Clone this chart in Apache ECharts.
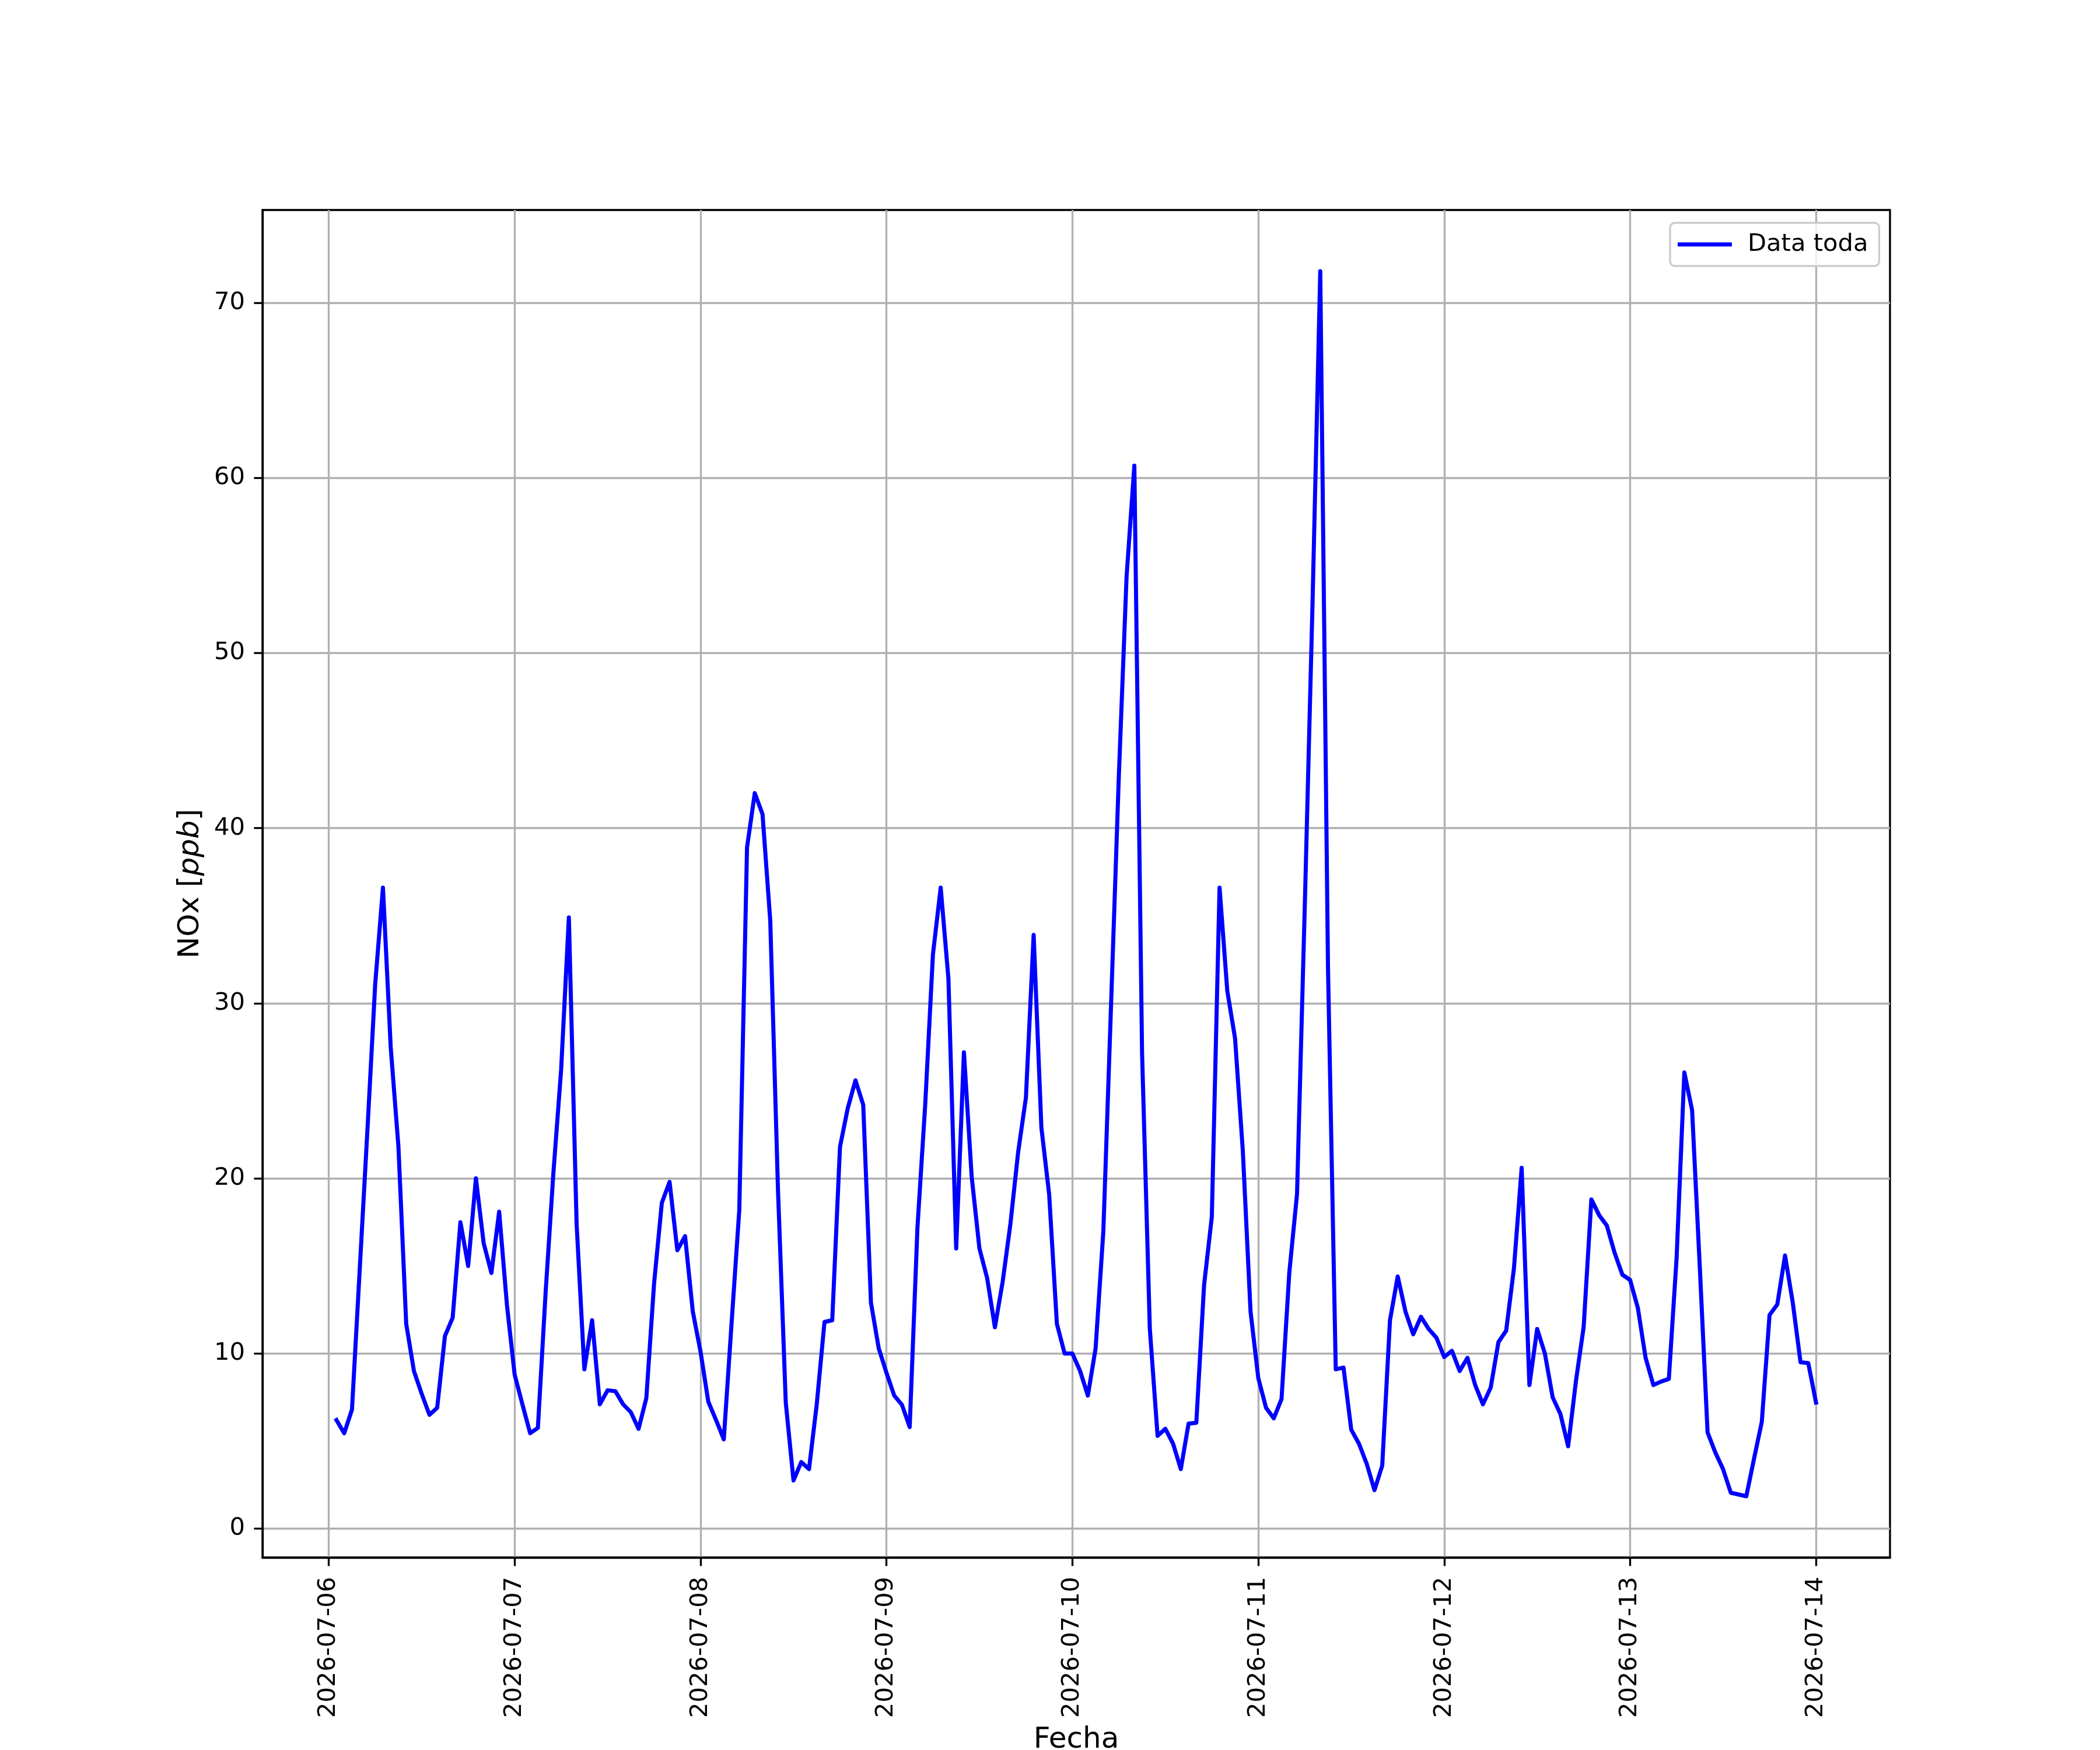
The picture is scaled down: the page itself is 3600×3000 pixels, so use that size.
<!DOCTYPE html>
<html>
<head>
<meta charset="utf-8">
<script src="https://cdn.jsdelivr.net/npm/echarts@6/dist/echarts.min.js"></script>
<style>
html,body{margin:0;padding:0;background:#fff;}
#chart{width:3600px;height:3000px;}
</style>
</head>
<body>
<div id="chart"></div>
<script>
// Tick labels (one per day, at midnight)
const dayLabels = ['2026-07-06','2026-07-07','2026-07-08','2026-07-09','2026-07-10','2026-07-11','2026-07-12','2026-07-13','2026-07-14'];
const yTicks = [0, 10, 20, 30, 40, 50, 60, 70];

// Hourly NOx [ppb]; first value is 2026-07-06 01:00
const firstHour = 1;
const nox0706 = [6.2, 5.45, 6.8, 14.8, 22.8, 31.1, 36.6, 27.5, 21.8, 11.7, 9.0, 7.7, 6.5, 6.9, 11.0, 12.05, 17.5, 15.0, 20.0, 16.3, 14.6, 18.1, 12.8];
const nox0707 = [8.8, 7.1, 5.45, 5.75, 13.5, 20.3, 26.2, 34.9, 17.4, 9.1, 11.9, 7.1, 7.9, 7.85, 7.1, 6.65, 5.7, 7.45, 14.0, 18.6, 19.8, 15.9, 16.7, 12.4];
const nox0708 = [10.1, 7.25, 6.2, 5.1, 11.7, 18.2, 38.9, 42.0, 40.8, 34.7, 19.3, 7.2, 2.75, 3.8, 3.4, 7.1, 11.8, 11.9, 21.8, 24.0, 25.6, 24.2, 12.9, 10.3];
const nox0709 = [8.9, 7.6, 7.07, 5.8, 17.2, 24.2, 32.8, 36.6, 31.4, 16.0, 27.2, 20.1, 16.0, 14.3, 11.5, 14.1, 17.4, 21.5, 24.6, 33.9, 22.9, 19.1, 11.7, 10.0];
const nox0710 = [10.0, 9.0, 7.6, 10.3, 17.0, 30.0, 43.0, 54.4, 60.7, 27.1, 11.4, 5.3, 5.7, 4.85, 3.4, 6.0, 6.05, 13.9, 17.8, 36.6, 30.7, 28.0, 21.6, 12.4];
const nox0711 = [8.6, 6.9, 6.3, 7.4, 14.6, 19.1, 35.5, 52.8, 71.8, 32.0, 9.1, 9.2, 5.65, 4.85, 3.7, 2.2, 3.6, 11.9, 14.4, 12.4, 11.1, 12.1, 11.4, 10.9];
const nox0712 = [9.8, 10.15, 9.0, 9.75, 8.2, 7.1, 8.05, 10.65, 11.3, 14.85, 20.6, 8.2, 11.4, 10.0, 7.5, 6.55, 4.7, 8.4, 11.5, 18.8, 17.9, 17.3, 15.75, 14.5];
const nox0713 = [14.2, 12.6, 9.75, 8.2, 8.4, 8.55, 15.45, 26.05, 23.9, 14.9, 5.5, 4.35, 3.4, 2.05, 1.95, 1.85, 4.0, 6.1, 12.2, 12.8, 15.6, 12.9, 9.5, 9.45];
const nox0714 = [7.2];

const noxValues = [].concat(nox0706, nox0707, nox0708, nox0709, nox0710, nox0711, nox0712, nox0713, nox0714);
const seriesData = noxValues.map((v, i) => [firstHour + i, v]);

// matplotlib-like 5% margins
const xFirst = firstHour, xLast = firstHour + noxValues.length - 1;
const xPad = (xLast - xFirst) * 0.05;
const yMinData = Math.min(...noxValues), yMaxData = Math.max(...noxValues);
const yPad = (yMaxData - yMinData) * 0.05;

const PT = 300 / 72;
const FONT = 'DejaVu Sans';

const chart = echarts.init(document.getElementById('chart'), null, {renderer: 'canvas'});
chart.setOption({
  backgroundColor: '#ffffff',
  animation: false,
  grid: {
    left: 450, right: 360, top: 360, bottom: 330,
    outerBoundsMode: 'none', containLabel: false,
    show: true, borderColor: '#000000', borderWidth: 0.8 * PT, backgroundColor: 'transparent'
  },
  legend: {
    show: true,
    left: 2863, top: 382,
    orient: 'vertical',
    icon: 'rect',
    itemWidth: 93, itemHeight: 7,
    padding: [16, 19, 16, 13],
    backgroundColor: 'rgba(255,255,255,0.8)',
    borderColor: '#cccccc', borderWidth: 0.8 * PT, borderRadius: 8,
    textStyle: {fontFamily: FONT, fontSize: 10 * PT, color: '#000', padding: [0, 0, 0, 22]},
    data: ['Data toda']
  },
  xAxis: {
    type: 'value',
    min: xFirst - xPad, max: xLast + xPad,
    name: 'Fecha', nameLocation: 'middle', nameGap: 288,
    nameTextStyle: {fontFamily: FONT, fontSize: 12 * PT, color: '#000', verticalAlign: 'top'},
    axisLine: {show: true, onZero: false, lineStyle: {color: '#000', width: 0.8 * PT}},
    axisTick: {show: true, length: 3.5 * PT, lineStyle: {color: '#000', width: 0.8 * PT},
               customValues: dayLabels.map((d, i) => i * 24)},
    axisLabel: {show: true, rotate: 90, margin: 33, fontFamily: FONT, fontSize: 10 * PT, color: '#000',
                customValues: dayLabels.map((d, i) => i * 24),
                formatter: v => dayLabels[Math.round(v / 24)]},
    splitLine: {show: true, lineStyle: {color: '#b0b0b0', width: 0.8 * PT}}
  },
  yAxis: {
    type: 'value',
    min: yMinData - yPad, max: yMaxData + yPad,
    name: '{a|NOx [}{b|ppb}{a|]}', nameLocation: 'middle', nameGap: 98,
    nameTextStyle: {fontFamily: FONT, fontSize: 12 * PT, color: '#000',
      rich: {a: {fontFamily: FONT, fontSize: 12 * PT, color: '#000'},
             b: {fontFamily: FONT, fontSize: 12 * PT, fontStyle: 'italic', color: '#000'}}},
    axisLine: {show: true, onZero: false, lineStyle: {color: '#000', width: 0.8 * PT}},
    axisTick: {show: true, length: 3.5 * PT, lineStyle: {color: '#000', width: 0.8 * PT}, customValues: yTicks},
    axisLabel: {show: true, margin: 30, fontFamily: FONT, fontSize: 10 * PT, color: '#000', customValues: yTicks},
    splitLine: {show: true, lineStyle: {color: '#b0b0b0', width: 0.8 * PT}}
  },
  series: [{
    name: 'Data toda',
    type: 'line',
    data: seriesData,
    showSymbol: false,
    symbol: 'none',
    color: '#0000ff',
    lineStyle: {color: '#0000ff', width: 7, join: 'round', cap: 'square'},
    z: 3
  }]
});
</script>
</body>
</html>
